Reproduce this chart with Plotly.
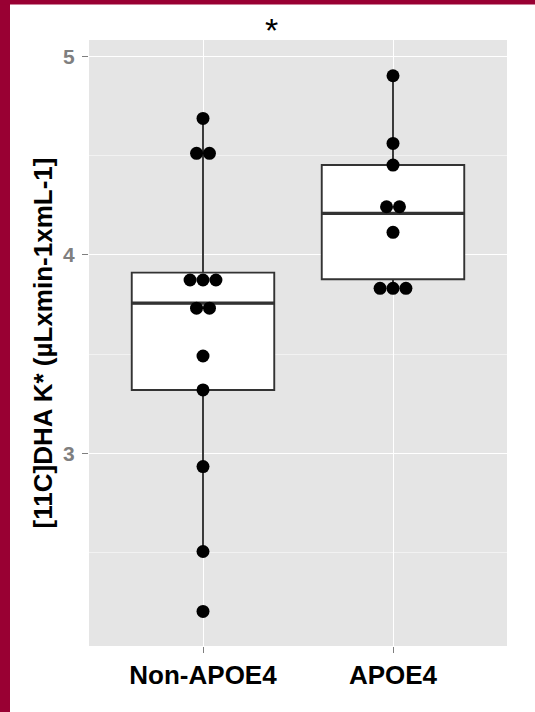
import plotly.graph_objects as go
from collections import Counter

# Groups and their [11C]DHA K* values
groups = ["Non-APOE4", "APOE4"]
non_apoe4 = [4.688, 4.512, 4.512, 3.874, 3.874, 3.874, 3.732, 3.732,
             3.491, 3.320, 2.934, 2.506, 2.204]
apoe4 = [4.903, 4.562, 4.453, 4.243, 4.243, 4.114, 3.832, 3.832, 3.832]

# Box summaries per group
box_q1 = [3.320, 3.878]
box_median = [3.757, 4.210]
box_q3 = [3.911, 4.453]
box_low = [2.506, 3.832]
box_high = [4.688, 4.903]

y_ticks = [3, 4, 5]
y_minor = [2.5, 3.5, 4.5]

BORDER = "#990033"
DOT_STEP = 0.068  # horizontal stacking step for tied values (axis units)

fig = go.Figure()

fig.add_trace(go.Box(
    x=[0, 1], q1=box_q1, median=box_median, q3=box_q3,
    lowerfence=box_low, upperfence=box_high,
    width=0.75, whiskerwidth=0, boxpoints=False,
    fillcolor="white", line=dict(color="#333333", width=1.9),
    showlegend=False, hoverinfo="skip",
))

# thicker median bars, as in a ggplot boxplot
for i, m in enumerate(box_median):
    fig.add_trace(go.Scatter(
        x=[i - 0.375, i + 0.375], y=[m, m], mode="lines",
        line=dict(color="#333333", width=3.2), showlegend=False,
        hoverinfo="skip",
    ))

# centred dot stacks
for i, vals in enumerate([non_apoe4, apoe4]):
    xs, ys = [], []
    for v, k in Counter(vals).items():
        for j in range(k):
            xs.append(i + (j - (k - 1) / 2) * DOT_STEP)
            ys.append(v)
    fig.add_trace(go.Scatter(
        x=xs, y=ys, mode="markers",
        marker=dict(color="black", size=13, line=dict(width=0)),
        showlegend=False,
    ))

W, H = 535, 712
L, R, T, B = 89, 28, 40, 66
pw, ph = W - L - R, H - T - B


def px_x(p):
    return (p - L) / pw


def px_y(p):
    return (H - B - p) / ph


shapes = [
    dict(type="rect", xref="paper", yref="paper", layer="above",
         x0=px_x(0), x1=px_x(10), y0=px_y(H), y1=px_y(0),
         fillcolor=BORDER, line=dict(width=0)),
    dict(type="rect", xref="paper", yref="paper", layer="above",
         x0=px_x(0), x1=px_x(W), y0=px_y(4.5), y1=px_y(0),
         fillcolor=BORDER, line=dict(width=0)),
]

fig.update_layout(
    width=W, height=H,
    margin=dict(l=L, r=R, t=T, b=B, pad=0),
    paper_bgcolor="white", plot_bgcolor="#e5e5e5",
    font=dict(family="Liberation Sans, Arial, sans-serif"),
    shapes=shapes,
    annotations=[dict(
        text="*", x=px_x(271), y=px_y(30), xref="paper", yref="paper",
        showarrow=False, xanchor="center", yanchor="middle",
        font=dict(size=34, color="black"),
    )],
    xaxis=dict(
        range=[-0.6, 1.6], tickvals=[0, 1], ticktext=groups,
        showgrid=True, gridcolor="white", gridwidth=1.3, zeroline=False,
        ticks="outside", ticklen=6, tickwidth=1, tickcolor="#7f7f7f",
        tickfont=dict(size=26, color="black", weight="bold"),
        ticklabelstandoff=0, showline=False,
    ),
    yaxis=dict(
        range=[2.03, 5.083], tickvals=y_ticks, ticktext=[str(t) for t in y_ticks],
        showgrid=True, gridcolor="white", gridwidth=1.3, zeroline=False,
        ticks="outside", ticklen=6, tickwidth=1, tickcolor="#7f7f7f",
        tickfont=dict(size=21, color="#7f7f7f", weight="bold"),
        ticklabelstandoff=3, showline=False,
        minor=dict(tickvals=y_minor, showgrid=True, gridcolor="#f2f2f2",
                   gridwidth=0.7),
        title=dict(text="[11C]DHA K* (µLxmin-1xmL-1]",
                   font=dict(size=26, color="black", weight="bold"),
                   standoff=3),
    ),
)

fig.write_html("out.html")
